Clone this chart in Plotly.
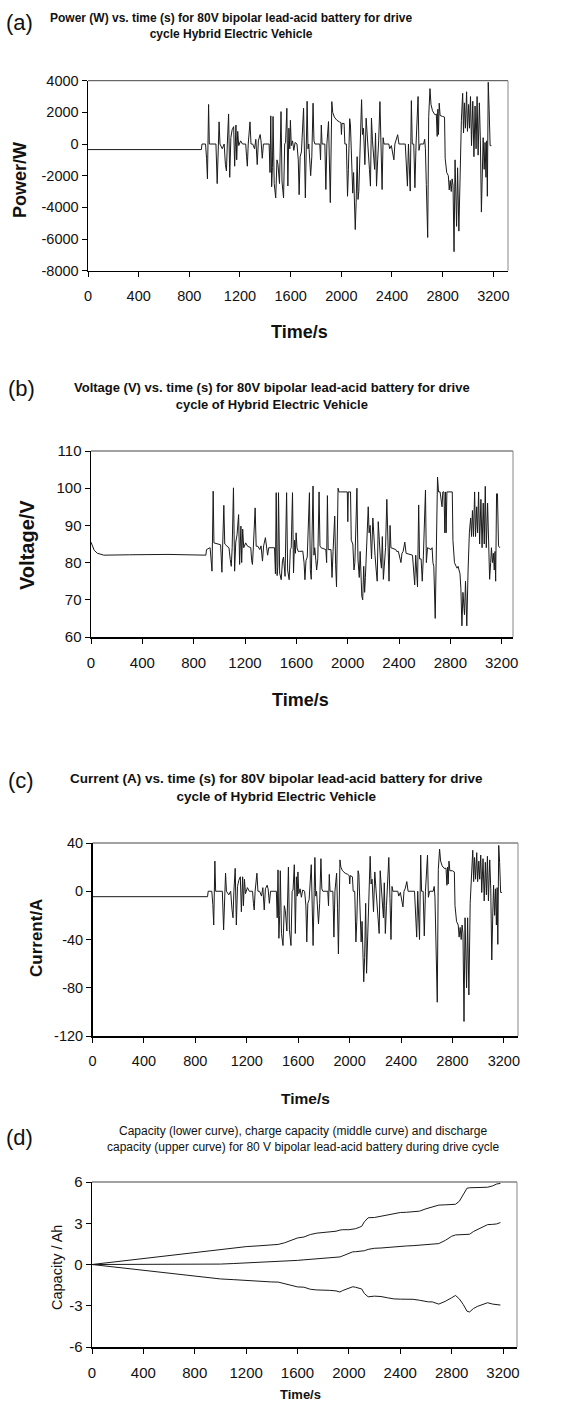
import plotly.graph_objects as go

# ---------------- data ----------------
TIME_S = [
    0, 10, 25, 50, 100, 300, 600, 895, 900, 928,
    936, 943, 952, 958, 1010, 1020, 1035, 1042, 1060, 1075,
    1085, 1093, 1100, 1110, 1119, 1128, 1138, 1150, 1158, 1163,
    1168, 1174, 1182, 1190, 1205, 1220, 1245, 1252, 1258, 1265,
    1279, 1287, 1300, 1315, 1325, 1336, 1345, 1359, 1366, 1376,
    1385, 1430, 1437, 1443, 1450, 1456, 1461, 1470, 1482, 1492,
    1500, 1512, 1524, 1532, 1544, 1553, 1560, 1570, 1578, 1586,
    1593, 1598, 1605, 1615, 1625, 1635, 1650, 1660, 1667, 1675,
    1685, 1702, 1709, 1716, 1730, 1737, 1743, 1752, 1758, 1767,
    1777, 1784, 1792, 1830, 1836, 1842, 1848, 1870, 1878, 1886,
    1899, 1906, 1913, 1925, 1932, 1945, 1965, 1985, 1997, 2001,
    2005, 2022, 2028, 2040, 2049, 2056, 2066, 2072, 2080, 2090,
    2097, 2110, 2117, 2125, 2132, 2138, 2160, 2167, 2175, 2186,
    2196, 2205, 2213, 2222, 2230, 2238, 2246, 2255, 2263, 2270,
    2278, 2287, 2295, 2305, 2314, 2322, 2330, 2337, 2375, 2382,
    2395, 2405, 2415, 2423, 2432, 2445, 2455, 2505, 2522, 2530,
    2544, 2553, 2560, 2572, 2581, 2590, 2606, 2613, 2622, 2650,
    2658, 2664, 2671, 2682, 2690, 2700, 2708, 2720, 2735, 2741,
    2750, 2757, 2762, 2767, 2773, 2780, 2800, 2815, 2820, 2832,
    2845, 2852, 2860, 2868, 2875, 2882, 2890, 2898, 2910, 2918,
    2928, 2938, 2948, 2958, 2965, 2972, 2980, 2989, 2996, 3005,
    3012, 3020, 3028, 3038, 3047, 3056, 3064, 3072, 3080, 3090,
    3098, 3106, 3114, 3120, 3128, 3135, 3142, 3148, 3153, 3160,
    3167, 3175, 3185,
]

POWER_W = [
    -350, -350, -350, -350, -350, -350, -350, -350, 0, 0,
    -900, -2200, 2500, 0, 0, -2500, 1400, 0, -300, 0,
    -1300, -1700, 0, 1900, -2100, 400, 900, 1100, -1400, 300,
    1200, -1000, 800, -100, 200, 0, 0, -800, -1400, 0,
    1400, 0, 0, -300, 300, -1300, 200, 600, 200, -900,
    0, 0, -1800, 1780, -2700, -1500, 1740, -2500, -3400, -1000,
    -1300, -2500, 2050, -2400, -3400, 0, 100, 2260, -2650, 1000,
    -300, 1500, -100, 200, -400, 100, 0, -1000, -3200, -800,
    -500, 2260, -1500, -3400, 2700, -300, 0, -1000, -2000, -800,
    2580, 200, 0, 0, -1000, 1200, 0, 0, -2870, 0,
    1420, -1200, -3700, 2680, 2000, 1700, 1500, 1400, 1350, 600,
    1300, 1300, 0, 0, -3300, -1600, 1600, 1200, -800, -3100,
    -1800, -5400, -3700, -800, -3500, -3000, 2800, 600, 1000, -1300,
    1630, 200, -700, -1600, -2660, 1630, 200, -800, -1600, 700,
    -2660, -1000, 200, 2680, -500, -2870, 400, 0, 0, -300,
    -100, -570, -1000, 0, 200, 590, 0, 0, -2660, 0,
    -2970, 2740, 0, 0, -2760, 0, 3000, -400, 0, 0,
    300, -300, -2550, -5900, 1740, 3500, 2500, 2100, 1900, 1840,
    1900, 480, 2200, 600, 2580, 1800, 1740, 1700, -900, -1800,
    -2000, -2900, -2300, -3000, -2200, -2600, -6800, -1000, -5200, -1500,
    -5500, -800, 1500, 3200, 700, 2600, 1000, 3300, 800, 2500,
    1000, 3000, -100, 2700, -800, 2400, -300, 3000, -700, 2600,
    200, -4300, -1500, 400, -1600, 100, -2100, 200, -3300, 3900,
    2200, -100, -100,
]

VOLTAGE_V = [
    85.5, 84.5, 83.3, 82.5, 82.0, 82.1, 82.2, 82.0, 83.5, 84.0,
    80.5, 77.7, 99.2, 85.3, 84.8, 77.4, 95.4, 85.0, 84.4, 84.0,
    80.8, 79.0, 84.0, 100.1, 77.7, 85.5, 87.5, 92.9, 79.5, 85.0,
    89.8, 80.0, 89.0, 84.0, 85.3, 84.4, 84.0, 80.5, 79.5, 84.2,
    94.7, 84.4, 84.4, 83.5, 84.5, 80.4, 84.5, 86.7, 84.5, 82.0,
    84.0, 84.0, 77.0, 98.8, 76.5, 79.0, 98.8, 77.2, 75.4, 80.5,
    81.5, 76.3, 98.8, 78.0, 75.4, 83.5, 84.0, 98.8, 77.2, 86.0,
    82.5, 88.0, 84.0, 83.0, 83.0, 83.1, 83.1, 80.0, 75.4, 80.5,
    81.5, 98.8, 78.1, 75.5, 100.6, 82.0, 84.0, 80.5, 78.0, 81.0,
    99.0, 84.5, 84.0, 83.5, 80.0, 98.0, 83.5, 83.5, 76.0, 83.0,
    92.5, 79.5, 73.5, 100.0, 99.0, 99.0, 99.0, 99.0, 99.0, 91.0,
    99.0, 99.0, 86.0, 85.0, 78.0, 80.0, 97.0, 100.0, 81.0, 76.0,
    83.0, 71.0, 70.0, 79.0, 72.0, 76.0, 95.0, 88.0, 90.0, 81.0,
    92.0, 84.0, 82.0, 78.0, 75.0, 91.0, 84.0, 81.0, 78.5, 87.0,
    75.5, 80.5, 84.0, 97.0, 82.0, 75.0, 90.0, 84.0, 83.5, 83.0,
    83.0, 81.5, 80.0, 82.5, 83.0, 85.5, 82.5, 82.0, 74.0, 82.0,
    73.5, 95.5, 81.0, 81.0, 75.0, 82.0, 99.5, 80.0, 84.0, 83.5,
    84.0, 80.0, 79.0, 65.0, 88.0, 103.0, 99.0, 99.0, 95.0, 99.0,
    99.0, 88.0, 99.0, 88.0, 99.0, 99.0, 99.0, 99.0, 86.0, 80.0,
    79.0, 78.5, 79.0, 78.0, 77.0, 73.0, 63.0, 72.0, 66.0, 75.0,
    63.0, 78.0, 88.0, 92.0, 87.0, 94.0, 87.0, 99.0, 87.0, 95.0,
    88.0, 99.0, 85.0, 97.0, 84.0, 96.0, 85.0, 100.5, 84.0, 96.0,
    85.0, 75.5, 80.0, 84.0, 80.0, 82.5, 78.0, 83.0, 75.0, 98.5,
    98.5, 84.5, 84.0,
]

CURRENT_A = [
    -4.5, -4.5, -4.5, -4.5, -4.5, -4.5, -4.5, -4.5, 0, 0,
    -11, -28, 25, 0, 0, -32, 15, 0, -3, 0,
    -15, -22, 0, 19, -28, 4, 9, 12, -17, 4,
    12, -12, 10, -2, 3, 0, 0, -10, -15.5, 0,
    15, 0, 0, -4, 3, -15.5, 2, 5, 2, -10,
    0, 0, -22, 17.7, -39, -20, 17, -35, -45, -12,
    -16, -33, 20, -32, -45, 0, 1, 22, -35, 12,
    -4, 16, -2, 2, -5, 1, 0, -12, -42, -10,
    -7, 22, -20, -45, 28, -4, 0, -12, -27, -10,
    27, 2, 0, 0, -12, 14, 0, 0, -38, 0,
    15, -14, -52, 26, 20, 17, 15, 14, 13, 6,
    13, 12, 0, 0, -42, -25, 17, 14, -10, -42,
    -25, -75, -55, -10, -68, -45, 29, 6, 10, -17,
    16, 2, -9, -20, -35, 17, 2, -10, -22, 7,
    -35, -12, 2, 28, -6, -40, 4, 0, 0, -4,
    -1, -7, -13, 0, 2, 8, 0, 0, -38, 0,
    -40, 30, 0, 0, -37, 0, 30, -5, 0, 0,
    4, -5, -37, -92, 18, 35, 25, 21, 19, 19,
    19, 5, 20, 6, 25, 17, 17, 16, -12, -25,
    -28, -38, -30, -40, -28, -35, -108, -22, -80, -22,
    -86, -10, 15, 34, 8, 28, 10, 32, 8, 25,
    10, 30, -1, 27, -8, 24, -3, 29, -8, 26,
    2, -57, -18, 5, -20, 2, -28, 3, -44, 38,
    24, -1, -1,
]

CAP_TIME_S = [
    0, 200, 400, 600, 800, 900, 1000, 1100, 1200, 1300,
    1400, 1450, 1500, 1550, 1600, 1650, 1700, 1750, 1800, 1850,
    1900, 1930, 1950, 2000, 2030, 2050, 2080, 2100, 2120, 2150,
    2200, 2250, 2300, 2350, 2400, 2450, 2500, 2550, 2600, 2620,
    2650, 2700, 2750, 2780, 2800, 2830, 2860, 2890, 2920, 2940,
    2970, 3000, 3040, 3080, 3120, 3150, 3180,
]
CAP_DISCHARGE_AH = [  # upper curve
    0, 0.22, 0.44, 0.66, 0.88, 0.98, 1.08, 1.18, 1.30, 1.36,
    1.42, 1.46, 1.58, 1.78, 1.93, 2.00, 2.18, 2.28, 2.33, 2.36,
    2.42, 2.50, 2.53, 2.53, 2.56, 2.60, 2.70, 2.78, 3.10, 3.40,
    3.42, 3.50, 3.60, 3.70, 3.78, 3.80, 3.83, 3.88, 4.05, 4.10,
    4.15, 4.32, 4.34, 4.34, 4.35, 4.38, 4.60, 5.10, 5.55, 5.58,
    5.58, 5.58, 5.60, 5.62, 5.72, 5.85, 5.90,
]
CAP_CHARGE_AH = [  # middle curve
    0, 0, 0, 0, 0, 0.01, 0.03, 0.07, 0.11, 0.14,
    0.18, 0.20, 0.22, 0.26, 0.30, 0.34, 0.37, 0.40, 0.44, 0.48,
    0.52, 0.55, 0.62, 0.80, 0.92, 0.93, 0.95, 0.98, 1.00, 1.10,
    1.18, 1.20, 1.25, 1.30, 1.32, 1.35, 1.37, 1.40, 1.43, 1.45,
    1.48, 1.52, 1.75, 1.95, 2.05, 2.15, 2.15, 2.15, 2.15, 2.20,
    2.40, 2.55, 2.75, 2.90, 2.92, 2.95, 3.05,
]
CAP_NET_AH = [  # lower curve
    0, -0.22, -0.44, -0.66, -0.88, -0.97, -1.05, -1.10, -1.17, -1.22,
    -1.27, -1.28, -1.40, -1.55, -1.63, -1.65, -1.80, -1.85, -1.85, -1.88,
    -1.92, -2.00, -1.90, -1.72, -1.62, -1.65, -1.75, -1.78, -2.10, -2.35,
    -2.30, -2.33, -2.42, -2.50, -2.52, -2.52, -2.53, -2.60, -2.70, -2.72,
    -2.72, -2.88, -2.68, -2.55, -2.42, -2.25, -2.50, -2.90, -3.40, -3.45,
    -3.20, -3.05, -2.92, -2.78, -2.88, -2.92, -2.95,
]

X_TICKS = [0, 400, 800, 1200, 1600, 2000, 2400, 2800, 3200]
X_TICK_TEXT = ["0", "400", "800", "1200", "1600", "2000", "2400", "2800", "3200"]
P_TICKS = [-8000, -6000, -4000, -2000, 0, 2000, 4000]
P_TICK_TEXT = ["-8000", "-6000", "-4000", "-2000", "0", "2000", "4000"]
V_TICKS = [60, 70, 80, 90, 100, 110]
V_TICK_TEXT = ["60", "70", "80", "90", "100", "110"]
I_TICKS = [-120, -80, -40, 0, 40]
I_TICK_TEXT = ["-120", "-80", "-40", "0", "40"]
C_TICKS = [-6, -3, 0, 3, 6]
C_TICK_TEXT = ["-6", "-3", "0", "3", "6"]

# ---------------- layout helpers ----------------
W, H = 584, 1404
FONT = "Liberation Sans, Arial, sans-serif"
LINE = "#1a1a1a"


def dx(l, r):
    return [l / W, r / W]


def dy(t, b):
    return [1 - b / H, 1 - t / H]


fig = go.Figure()

panels = [
    # (xaxis id, yaxis id, x px, y px, xrange, yrange, yticks, ytext, tickfont)
    ("x", "y", (88, 508), (80.7, 270.7), [0, 3316], [-8000, 4000], P_TICKS, P_TICK_TEXT, 14.5),
    ("x2", "y2", (91, 513), (451, 637), [0, 3288], [60, 110], V_TICKS, V_TICK_TEXT, 15),
    ("x3", "y3", (92.5, 518), (843, 1036), [0, 3310], [-120, 40], I_TICKS, I_TICK_TEXT, 14.5),
    ("x4", "y4", (92, 517), (1182, 1347), [0, 3309], [-6, 6], C_TICKS, C_TICK_TEXT, 15),
]

series = [
    [(TIME_S, POWER_W)],
    [(TIME_S, VOLTAGE_V)],
    [(TIME_S, CURRENT_A)],
    [(CAP_TIME_S, CAP_DISCHARGE_AH), (CAP_TIME_S, CAP_CHARGE_AH), (CAP_TIME_S, CAP_NET_AH)],
]

for (xa, ya, xp, yp, xr, yr, yt, ytt, fs), sers in zip(panels, series):
    for xs, ys in sers:
        fig.add_trace(go.Scatter(x=xs, y=ys, xaxis=xa, yaxis=ya, mode="lines",
                                 line=dict(color=LINE, width=1), hoverinfo="skip"))
    xkey = "xaxis" + xa[1:]
    ykey = "yaxis" + ya[1:]
    fig.layout[xkey] = dict(
        domain=dx(*xp), anchor=ya, range=xr, tickvals=X_TICKS, ticktext=X_TICK_TEXT,
        showgrid=False, zeroline=False, showline=True, linecolor="#000", linewidth=1.5,
        ticks="outside", ticklen=5, tickwidth=1, tickcolor="#000",
        tickfont=dict(family=FONT, size=fs, color="#111"), ticklabelstandoff=6,
        automargin=False, fixedrange=True,
    )
    fig.layout[ykey] = dict(
        domain=dy(*yp), anchor=xa, range=yr, tickvals=yt, ticktext=ytt,
        showgrid=False, zeroline=False, showline=True, linecolor="#000", linewidth=1.5,
        ticks="outside", ticklen=5, tickwidth=1, tickcolor="#000",
        tickfont=dict(family=FONT, size=fs, color="#111"), automargin=False, fixedrange=True,
    )
    # frame: top and right edges
    fig.add_shape(type="line", xref=xa + " domain", yref=ya + " domain", x0=0, x1=1, y0=1, y1=1,
                  line=dict(color="#444", width=1), layer="below")
    fig.add_shape(type="line", xref=xa + " domain", yref=ya + " domain", x0=1, x1=1, y0=0, y1=1,
                  line=dict(color="#888", width=1), layer="below")


def ann(text, x, y, size, bold=False, angle=0):
    fig.add_annotation(
        text=f"<b>{text}</b>" if bold else text, xref="paper", yref="paper",
        x=x / W, y=1 - y / H, xanchor="center", yanchor="middle", showarrow=False,
        textangle=angle, font=dict(family=FONT, size=size, color="#111"),
    )


# panel letters
ann("(a)", 19, 22.5, 22)
ann("(b)", 21, 388, 22)
ann("(c)", 21, 780, 22)
ann("(d)", 19, 1137, 22)

# panel titles
ann("Power (W) vs. time (s) for 80V bipolar lead-acid battery for drive<br>cycle Hybrid Electric Vehicle",
    231, 26, 12, bold=True)
ann("Voltage (V) vs. time (s) for 80V bipolar lead-acid battery for drive<br>cycle of Hybrid Electric Vehicle",
    272, 396, 13, bold=True)
ann("Current (A) vs. time (s) for 80V bipolar lead-acid battery for drive<br>cycle of Hybrid Electric Vehicle",
    276, 787, 13.5, bold=True)
ann("Capacity (lower curve), charge capacity (middle curve) and discharge<br>"
    "capacity (upper curve) for 80 V bipolar lead-acid battery during drive cycle",
    303, 1139, 12)

# axis titles
ann("Power/W", 20, 180, 18, bold=True, angle=-90)
ann("Time/s", 299, 332, 18, bold=True)
ann("Voltage/V", 27, 545, 20, bold=True, angle=-90)
ann("Time/s", 300, 700, 18, bold=True)
ann("Current/A", 36, 938, 17, bold=True, angle=-90)
ann("Time/s", 305, 1098, 15.5, bold=True)
ann("Capacity / Ah", 57, 1268, 14.5, angle=-90)
ann("Time/s", 300, 1394, 13, bold=True)

fig.update_layout(
    width=W, height=H, margin=dict(l=0, r=0, t=0, b=0, pad=0),
    paper_bgcolor="white", plot_bgcolor="white", showlegend=False,
    font=dict(family=FONT, color="#111"), hovermode=False,
)

# remove the browser's default page margin so the figure sits at the window origin
fig.write_html(
    "out.html",
    config={"displayModeBar": False, "staticPlot": True},
    post_script="document.body.style.margin='0';document.body.style.padding='0';",
)
